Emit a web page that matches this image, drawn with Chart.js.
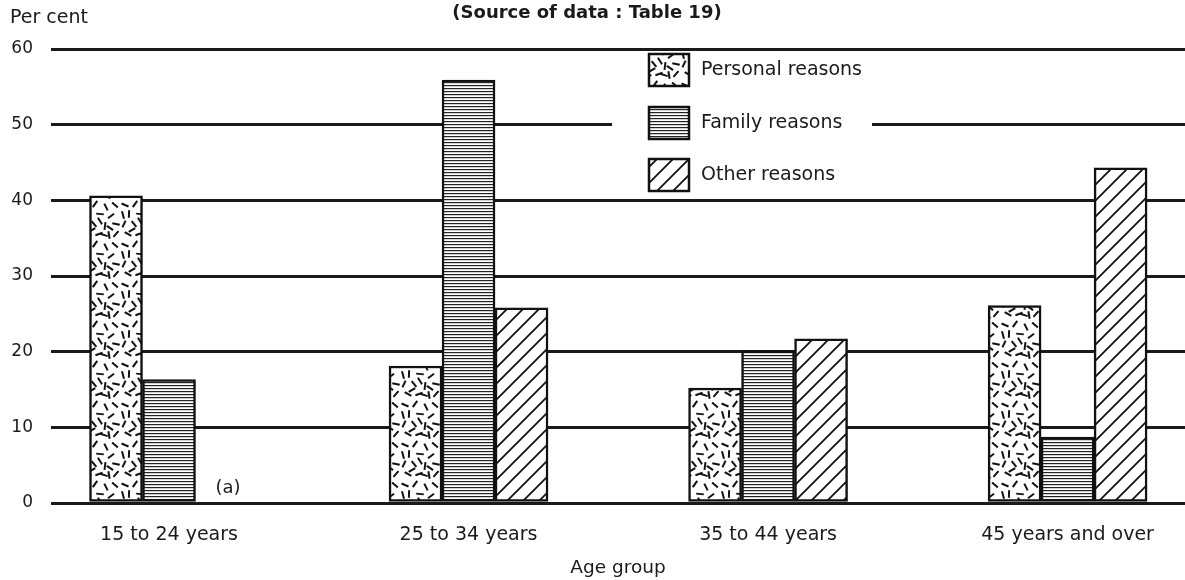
<!DOCTYPE html>
<html>
<head>
<meta charset="utf-8">
<script src="https://cdn.jsdelivr.net/npm/chart.js@4"></script>
<style>
  body { margin: 0; background: #fff; }
  .wrap { width: 1185px; height: 580px; position: relative; }
</style>
</head>
<body>
<div class="wrap"><canvas id="chart"></canvas></div>
<script>
const categories = ["15 to 24 years", "25 to 34 years", "35 to 44 years", "45 years and over"];
const personal = [40.6, 18.1, 15.2, 26.1];
const family = [16.3, 55.9, 20.1, 8.7];
const other = [null, 25.8, 21.7, 44.3];
const yTicks = [0, 10, 20, 30, 40, 50, 60];

const FONT = "'DejaVu Sans', 'Liberation Sans', Arial, sans-serif";
Chart.defaults.font.family = FONT;
Chart.defaults.font.size = 17;
Chart.defaults.color = "#1a1a1a";

// textures
function makeTile(w, h, draw) {
  const c = document.createElement("canvas");
  c.width = w;
  c.height = h;
  const g = c.getContext("2d");
  g.fillStyle = "#fff";
  g.fillRect(0, 0, w, h);
  draw(g);
  return document.createElement("canvas").getContext("2d").createPattern(c, "repeat");
}

const dashes = [
  [5, 5, 0.4], [15, 4, 2.2], [26, 7, 1.1], [35, 5, 0.7],
  [9, 14, 1.6], [20, 14, 0.1], [31, 16, 2.5], [4, 24, 2.0],
  [14, 24, 0.9], [25, 26, 1.7], [36, 24, 0.2], [8, 34, 0.5],
  [19, 34, 2.8], [29, 35, 1.4], [36, 34, 2.3], [20, 21, 1.0],
  [30, 28, 0.6], [12, 30, 2.6], [3, 15, 1.3], [24, 35, 0.3]
];
const dotPattern = makeTile(40, 40, g => {
  g.strokeStyle = "#111";
  g.lineWidth = 2;
  dashes.forEach(([x, y, a]) => {
    const dx = Math.cos(a) * 3.8, dy = Math.sin(a) * 3.8;
    g.beginPath();
    g.moveTo(x - dx, y - dy);
    g.lineTo(x + dx, y + dy);
    g.stroke();
  });
});

const stripePattern = makeTile(6, 3, g => {
  g.fillStyle = "#222";
  g.fillRect(0, 1, 6, 1.2);
});

const hatchPattern = makeTile(16, 16, g => {
  g.strokeStyle = "#111";
  g.lineWidth = 1.8;
  g.beginPath();
  g.moveTo(-2, 18); g.lineTo(18, -2);
  g.moveTo(-2, 2); g.lineTo(2, -2);
  g.moveTo(14, 18); g.lineTo(18, 14);
  g.stroke();
});

const series = [
  { label: "Personal reasons", values: personal, fill: dotPattern },
  { label: "Family reasons", values: family, fill: stripePattern },
  { label: "Other reasons", values: other, fill: hatchPattern }
];

const extras = {
  id: "extras",
  beforeDatasetsDraw(chart) {
    const { ctx } = chart;
    // legend sits over the 50 line
    ctx.save();
    ctx.fillStyle = "#fff";
    ctx.fillRect(612, 118, 260, 18);
    ctx.restore();
  },
  afterDraw(chart) {
    const { ctx, scales } = chart;
    ctx.save();
    ctx.fillStyle = "#1a1a1a";
    ctx.textBaseline = "middle";
    ctx.font = "bold 18px " + FONT;
    ctx.textAlign = "center";
    ctx.fillText("(Source of data : Table 19)", 587, 13);
    ctx.font = "19px " + FONT;
    ctx.textAlign = "left";
    ctx.fillText("Per cent", 10, 18);
    ctx.font = "18px " + FONT;
    ctx.textAlign = "center";
    ctx.fillText("(a)", scales.x.getPixelForValue(0) + 59, scales.y.getPixelForValue(2));

    // legend
    ctx.font = "19px " + FONT;
    const rows = [70, 123, 175];
    series.forEach((s, i) => {
      const y = rows[i];
      ctx.fillStyle = s.fill;
      ctx.fillRect(649, y - 16, 40, 32);
      ctx.strokeStyle = "#111";
      ctx.lineWidth = 2.5;
      ctx.strokeRect(649, y - 16, 40, 32);
      ctx.fillStyle = "#1a1a1a";
      ctx.textAlign = "left";
      ctx.fillText(s.label, 701, y);
    });
    ctx.restore();
  }
};

new Chart(document.getElementById("chart"), {
  type: "bar",
  data: {
    datasets: series.map(s => ({
      label: s.label,
      data: s.values.map((v, i) => ({ x: i, y: v })),
      backgroundColor: s.fill,
      borderColor: "#111",
      borderWidth: 2.5,
      borderSkipped: false,
      barThickness: 53
    }))
  },
  options: {
    responsive: true,
    maintainAspectRatio: false,
    animation: false,
    layout: { padding: { top: 49, right: 0, left: 0, bottom: 0 } },
    plugins: {
      legend: { display: false },
      tooltip: { enabled: false }
    },
    scales: {
      x: {
        type: "linear",
        offset: false,
        min: -0.394,
        max: 3.392,
        grid: { display: false, drawTicks: false },
        border: { display: false },
        afterBuildTicks: scale => {
          scale.ticks = categories.map((c, i) => ({ value: i }));
        },
        afterFit: scale => { scale.height = 77; },
        ticks: {
          padding: 21,
          autoSkip: false,
          maxRotation: 0,
          font: { size: 19 },
          callback: v => categories[v]
        },
        title: {
          display: true,
          text: "Age group",
          font: { size: 18.5 },
          padding: { top: 0, bottom: 1 }
        }
      },
      y: {
        min: 0,
        max: 60,
        afterBuildTicks: scale => {
          scale.ticks = yTicks.map(v => ({ value: v }));
        },
        afterFit: scale => { scale.width = 51; },
        grid: { color: "#1a1a1a", lineWidth: 3, drawTicks: false },
        border: { display: false },
        ticks: { padding: 18 }
      }
    }
  },
  plugins: [extras]
});
</script>
</body>
</html>
